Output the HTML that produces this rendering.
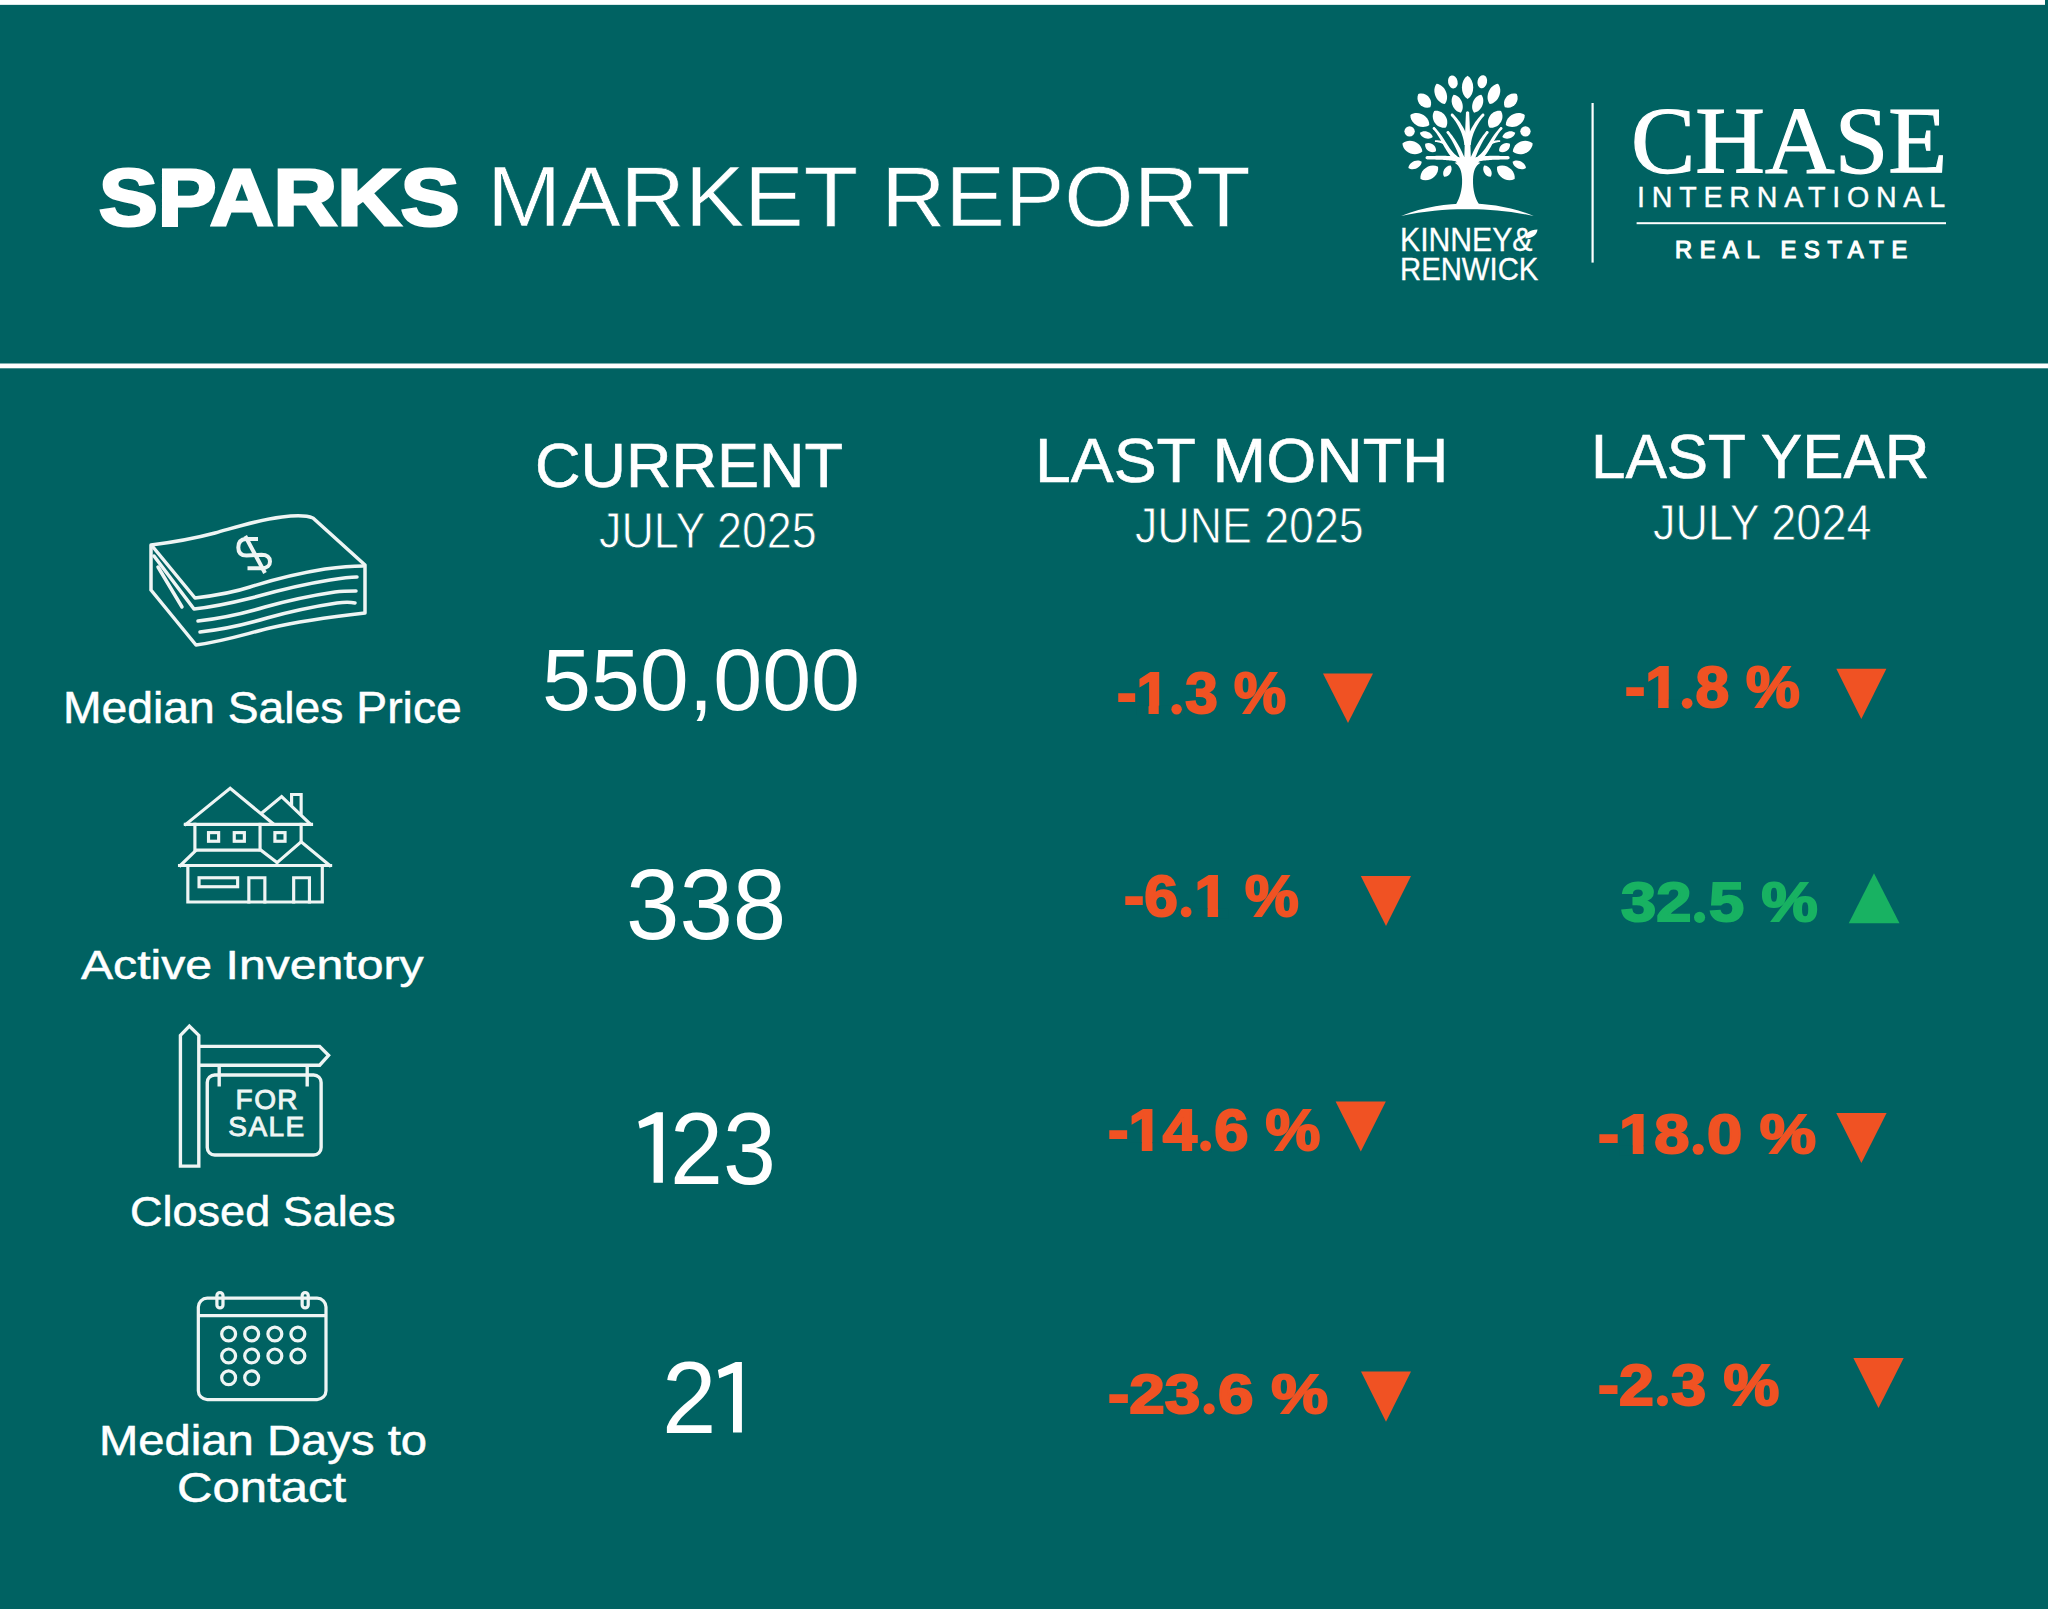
<!DOCTYPE html>
<html><head><meta charset="utf-8"><style>
html,body{margin:0;padding:0;}
body{width:2048px;height:1609px;background:#006262;position:relative;overflow:hidden;}
.t{position:absolute;white-space:nowrap;line-height:1;transform-origin:0 0;}
svg.st{position:absolute;left:0;top:0;}
</style></head><body>
<svg class="st" width="2048" height="1609" viewBox="0 0 2048 1609">
<rect x="0" y="0" width="2045" height="4.85" fill="#fff"/>
<rect x="0" y="363.5" width="2048" height="4.8" fill="#fff"/>
<g fill="#f05223">
<polygon points="1323,673.4 1373,673.4 1348,723"/>
<polygon points="1836.3,668.8 1886.4,668.8 1861.3,719.1"/>
<polygon points="1360.8,876 1411,876 1386,926"/>
<polygon points="1335.6,1101.4 1385.8,1101.4 1360.8,1151.4"/>
<polygon points="1836.25,1113.1 1886.6,1113.1 1861.4,1163.1"/>
<polygon points="1361,1371.6 1411,1371.6 1386,1421.7"/>
<polygon points="1853.4,1358 1903.7,1358 1878.5,1408"/>
</g>
<polygon fill="#18b262" points="1848.75,923.3 1899.5,923.3 1874,873.3"/>
<!-- logo lines -->
<rect x="1591.5" y="103" width="2.2" height="159.6" fill="#fff"/>
<rect x="1636.6" y="222.2" width="309.4" height="2" fill="#fff"/>
<!-- money icon -->
<g fill="none" stroke="#eef5f4" stroke-width="3.5" stroke-linecap="round" stroke-linejoin="round">
<path d="M151,590 L151,545 C175,542 200,537 215,533 C240,526 258,520 282,517 C298,515 308,516 313,518 L365,565 L365,613 C330,617 300,621 270,628 C245,634 225,641 196,645 L151,590"/>
<path d="M153,547 L195,598 C220,595 235,592 250,587 C275,579 300,573 325,569 C340,567 352,566 363,566"/>
<path d="M154,556 L194,609 C220,606 235,602 255,597 C280,590 305,584 330,580 C342,578 350,577 357,577"/>
<path d="M158,567 L182,607"/>
<path d="M198,621 C225,618 245,613 265,607 C290,600 315,595 335,592 C343,591 350,591 356,591"/>
<path d="M200,632 C227,629 247,624 267,618 C292,611 317,606 337,603 C345,602 350,602 355,603"/>
<path stroke-width="4" stroke-linecap="butt" d="M258,539 L246,539 C240.5,539.3 238.3,543 238.3,547.5 C238.3,552.5 241,555.5 246.5,555.5 L261.5,554.8 C267,554.8 270,557.5 270,561.5 C270,565.5 267,568.2 262,568.2 L247.5,568.2"/>
<path stroke-width="4" stroke-linecap="butt" d="M245.2,536 L265,573"/>
</g>
<!-- house icon -->
<g transform="translate(170,780) scale(0.083)" fill="none" stroke="#eef5f4" stroke-width="38" stroke-linecap="square" stroke-linejoin="miter">
<path d="M190,535 L725,100 L1240,525"/>
<path d="M1110,395 L1345,200 L1690,530"/>
<path d="M1465,290 L1465,175 L1580,175 L1580,400"/>
<path d="M185,535 L1705,535"/>
<path d="M300,535 L300,845 L1095,845 L1290,995"/>
<path d="M1085,535 L1085,840"/>
<path d="M1580,535 L1580,740"/>
<rect x="464" y="634" width="122" height="104"/>
<rect x="774" y="634" width="122" height="104"/>
<rect x="1264" y="634" width="122" height="104"/>
<path d="M125,1030 L305,855"/>
<path d="M1290,995 L1580,745 L1925,1030"/>
<path d="M115,1030 L1935,1030"/>
<path d="M215,1030 L215,1470 L1835,1470 L1835,1030"/>
<rect x="350" y="1178" width="465" height="108"/>
<path d="M950,1470 L950,1178 L1143,1178 L1143,1470"/>
<path d="M1490,1470 L1490,1178 L1680,1178 L1680,1470"/>
</g>
<!-- for sale icon -->
<g transform="translate(165,1015) scale(0.09944)" fill="none" stroke="#eef5f4" stroke-width="34" stroke-linejoin="miter">
<path d="M155,1520 L155,205 L245,112 L340,205 L340,1520 Z"/>
<path d="M340,315 L1555,315 L1645,405 L1555,505 L340,505"/>
<path d="M545,505 L545,720 M1430,505 L1430,720"/>
<rect x="425" y="603" width="1145" height="805" rx="75"/>
</g>
<g font-family="'Liberation Sans', sans-serif" fill="#eef5f4" stroke="#eef5f4" stroke-width="0.9">
<text x="235.6" y="1109.3" font-size="28" textLength="62" lengthAdjust="spacing">FOR</text>
<text x="228.3" y="1136.1" font-size="28" textLength="76" lengthAdjust="spacing">SALE</text>
</g>
<!-- calendar icon -->
<g transform="translate(185,1280) scale(0.0808)" fill="none" stroke="#eef5f4" stroke-width="40">
<rect x="165" y="225" width="1580" height="1255" rx="110"/>
<path d="M165,440 L1745,440"/>
<rect x="395" y="155" width="75" height="190" rx="37"/>
<rect x="1450" y="155" width="75" height="190" rx="37"/>
<circle cx="540" cy="668" r="86"/><circle cx="825" cy="668" r="86"/><circle cx="1112" cy="668" r="86"/><circle cx="1397" cy="668" r="86"/>
<circle cx="540" cy="940" r="86"/><circle cx="825" cy="940" r="86"/><circle cx="1112" cy="940" r="86"/><circle cx="1397" cy="940" r="86"/>
<circle cx="540" cy="1210" r="86"/><circle cx="825" cy="1210" r="86"/>
</g>
<g fill="#fff" id="digit-ones">
<polygon points="638.3,1121.5 656.4,1112.3 662.9,1112.3 662.9,1182.8 653.6,1182.8 653.6,1123.4 639.7,1128.5"/>
<polygon points="717.9,1370 735.7,1361.9 741.9,1361.9 741.9,1432.6 733,1432.6 733,1372.8 719.3,1378.3"/>
</g>
<path id="leaf-amp" fill="#fff" d="M1525.5,238.5 C1525,233 1530,229.5 1537.5,229.5 C1537,235 1532,238.5 1525.5,238.5 Z"/>
<g transform="translate(1390,65) scale(0.09944)" fill="#fff">
<ellipse cx="632" cy="170" rx="48" ry="66" transform="rotate(-12 632 170)"/>
<path transform="translate(780 225) rotate(0)" d="M0,-118 C76.0,-73.2 76.0,73.2 0,118 C-76.0,73.2 -76.0,-73.2 0,-118 Z"/>
<ellipse cx="928" cy="168" rx="48" ry="66" transform="rotate(12 928 168)"/>
<path transform="translate(510 290) rotate(-22)" d="M0,-110 C76.0,-68.2 76.0,68.2 0,110 C-76.0,68.2 -76.0,-68.2 0,-110 Z"/>
<path transform="translate(1045 290) rotate(22)" d="M0,-110 C76.0,-68.2 76.0,68.2 0,110 C-76.0,68.2 -76.0,-68.2 0,-110 Z"/>
<path transform="translate(345 358) rotate(-42)" d="M0,-90 C77.3,-55.8 77.3,55.8 0,90 C-77.3,55.8 -77.3,-55.8 0,-90 Z"/>
<path transform="translate(1215 358) rotate(42)" d="M0,-90 C77.3,-55.8 77.3,55.8 0,90 C-77.3,55.8 -77.3,-55.8 0,-90 Z"/>
<path transform="translate(676 390) rotate(-22)" d="M0,-97 C66.6,-60.1 66.6,60.1 0,97 C-66.6,60.1 -66.6,-60.1 0,-97 Z"/>
<path transform="translate(882 390) rotate(22)" d="M0,-97 C66.6,-60.1 66.6,60.1 0,97 C-66.6,60.1 -66.6,-60.1 0,-97 Z"/>
<path transform="translate(503 545) rotate(-35)" d="M0,-102 C84.0,-63.2 84.0,63.2 0,102 C-84.0,63.2 -84.0,-63.2 0,-102 Z"/>
<path transform="translate(1058 545) rotate(35)" d="M0,-102 C84.0,-63.2 84.0,63.2 0,102 C-84.0,63.2 -84.0,-63.2 0,-102 Z"/>
<path transform="translate(300 553) rotate(-62)" d="M0,-108 C82.6,-67.0 82.6,67.0 0,108 C-82.6,67.0 -82.6,-67.0 0,-108 Z"/>
<path transform="translate(1260 553) rotate(62)" d="M0,-108 C82.6,-67.0 82.6,67.0 0,108 C-82.6,67.0 -82.6,-67.0 0,-108 Z"/>
<path transform="translate(365 703) rotate(-72)" d="M0,-68 C46.7,-42.2 46.7,42.2 0,68 C-46.7,42.2 -46.7,-42.2 0,-68 Z"/>
<path transform="translate(1195 703) rotate(72)" d="M0,-68 C46.7,-42.2 46.7,42.2 0,68 C-46.7,42.2 -46.7,-42.2 0,-68 Z"/>
<path transform="translate(225 830) rotate(-68)" d="M0,-108 C84.0,-67.0 84.0,67.0 0,108 C-84.0,67.0 -84.0,-67.0 0,-108 Z"/>
<path transform="translate(1335 830) rotate(68)" d="M0,-108 C84.0,-67.0 84.0,67.0 0,108 C-84.0,67.0 -84.0,-67.0 0,-108 Z"/>
<path transform="translate(408 830) rotate(-55)" d="M0,-66 C53.3,-40.9 53.3,40.9 0,66 C-53.3,40.9 -53.3,-40.9 0,-66 Z"/>
<path transform="translate(1152 830) rotate(55)" d="M0,-66 C53.3,-40.9 53.3,40.9 0,66 C-53.3,40.9 -53.3,-40.9 0,-66 Z"/>
<path transform="translate(252 1005) rotate(65)" d="M0,-74 C50.7,-45.9 50.7,45.9 0,74 C-50.7,45.9 -50.7,-45.9 0,-74 Z"/>
<path transform="translate(1300 1005) rotate(-65)" d="M0,-74 C50.7,-45.9 50.7,45.9 0,74 C-50.7,45.9 -50.7,-45.9 0,-74 Z"/>
<path transform="translate(395 1085) rotate(55)" d="M0,-108 C82.6,-67.0 82.6,67.0 0,108 C-82.6,67.0 -82.6,-67.0 0,-108 Z"/>
<path transform="translate(1165 1085) rotate(-55)" d="M0,-108 C82.6,-67.0 82.6,67.0 0,108 C-82.6,67.0 -82.6,-67.0 0,-108 Z"/>
<path transform="translate(577 1067) rotate(30)" d="M0,-66 C48.0,-40.9 48.0,40.9 0,66 C-48.0,40.9 -48.0,-40.9 0,-66 Z"/>
<path transform="translate(980 1067) rotate(-30)" d="M0,-66 C48.0,-40.9 48.0,40.9 0,66 C-48.0,40.9 -48.0,-40.9 0,-66 Z"/>
<circle cx="197" cy="667" r="52"/><circle cx="1362" cy="667" r="52"/>
<path d="M112,1518 C350,1420 600,1390 780,1392 C960,1390 1210,1420 1445,1518 C1200,1465 980,1448 780,1450 C580,1448 360,1465 112,1518 Z"/>
<path d="M665,1400 C700,1340 728,1260 725,1150 C722,1060 700,1010 650,982 C690,975 720,955 745,925 L815,925 C840,955 870,975 910,982 C860,1010 838,1060 835,1150 C832,1260 855,1340 895,1400 Z"/>
<path d="M815.0,1000.0 L814.2,975.0 L813.4,950.0 L812.6,925.2 L811.8,900.4 L811.0,875.7 L810.2,851.2 L809.5,826.9 L808.7,802.9 L807.9,779.1 L807.1,755.6 L806.3,732.5 L805.5,709.7 L804.7,687.4 L803.9,665.5 L803.1,644.0 L802.3,623.1 L801.5,602.7 L800.8,582.9 L800.0,563.7 L799.2,545.1 L798.4,527.3 L797.6,510.1 L796.8,493.7 L796.0,478.0 L764.0,478.0 L763.2,493.7 L762.4,510.1 L761.6,527.3 L760.8,545.1 L760.0,563.7 L759.2,582.9 L758.5,602.7 L757.7,623.1 L756.9,644.0 L756.1,665.5 L755.3,687.4 L754.5,709.8 L753.7,732.5 L752.9,755.6 L752.1,779.1 L751.3,802.9 L750.5,826.9 L749.8,851.2 L749.0,875.7 L748.2,900.4 L747.4,925.2 L746.6,950.0 L745.8,975.0 L745.0,1000.0 Z"/>
<path d="M796.8,796.6 L794.5,783.6 L791.6,770.1 L788.3,756.5 L784.5,742.8 L780.2,729.1 L775.5,715.4 L770.4,701.7 L764.9,688.0 L759.0,674.4 L752.7,660.8 L746.0,647.3 L739.0,633.9 L731.6,620.6 L723.9,607.5 L715.9,594.6 L707.6,581.9 L699.0,569.4 L690.1,557.2 L680.9,545.2 L671.5,533.6 L661.9,522.3 L652.0,511.3 L641.9,500.7 L631.8,490.7 L612.2,509.3 L621.4,519.7 L630.2,530.3 L638.8,541.2 L647.2,552.5 L655.3,564.1 L663.2,575.9 L670.9,588.0 L678.2,600.3 L685.3,612.8 L692.0,625.4 L698.4,638.2 L704.5,651.1 L710.3,664.1 L715.7,677.1 L720.7,690.1 L725.3,703.1 L729.6,716.1 L733.4,729.0 L736.8,741.7 L739.8,754.4 L742.3,766.9 L744.4,779.2 L746.0,791.2 L747.2,803.4 Z"/>
<path d="M812.8,803.4 L814.0,791.2 L815.6,779.2 L817.7,766.9 L820.2,754.4 L823.2,741.7 L826.6,729.0 L830.4,716.1 L834.7,703.1 L839.3,690.1 L844.3,677.1 L849.7,664.1 L855.5,651.1 L861.6,638.2 L868.0,625.4 L874.7,612.8 L881.8,600.3 L889.1,588.0 L896.8,575.9 L904.7,564.1 L912.8,552.5 L921.2,541.2 L929.8,530.3 L938.6,519.7 L947.8,509.3 L928.2,490.7 L918.1,500.7 L908.0,511.3 L898.1,522.3 L888.5,533.6 L879.1,545.2 L869.9,557.2 L861.0,569.4 L852.4,581.9 L844.1,594.6 L836.1,607.5 L828.4,620.6 L821.0,633.9 L814.0,647.3 L807.3,660.8 L801.0,674.4 L795.1,688.0 L789.6,701.7 L784.5,715.4 L779.8,729.1 L775.5,742.8 L771.7,756.5 L768.4,770.1 L765.5,783.6 L763.2,796.6 Z"/>
<path d="M767.5,976.8 L761.4,961.3 L755.2,946.1 L748.9,931.0 L742.6,916.3 L736.1,901.7 L729.6,887.4 L723.0,873.3 L716.3,859.5 L709.4,845.9 L702.5,832.5 L695.4,819.4 L688.3,806.4 L680.9,793.7 L673.5,781.2 L665.9,768.8 L658.1,756.7 L650.2,744.8 L642.2,733.1 L633.9,721.6 L625.5,710.2 L616.9,699.1 L608.2,688.1 L599.2,677.3 L590.1,666.8 L569.9,683.2 L578.1,694.1 L586.0,705.0 L593.8,716.1 L601.3,727.4 L608.6,738.8 L615.8,750.3 L622.8,762.1 L629.6,774.0 L636.3,786.1 L642.9,798.4 L649.2,810.9 L655.5,823.6 L661.6,836.5 L667.6,849.6 L673.5,862.9 L679.3,876.4 L685.0,890.2 L690.5,904.1 L696.0,918.4 L701.5,932.8 L706.8,947.5 L712.1,962.5 L717.3,977.7 L722.5,993.2 Z"/>
<path d="M837.5,993.2 L842.7,977.7 L847.9,962.5 L853.2,947.5 L858.5,932.8 L864.0,918.4 L869.5,904.1 L875.0,890.2 L880.7,876.4 L886.5,862.9 L892.4,849.6 L898.4,836.5 L904.5,823.6 L910.8,810.9 L917.1,798.4 L923.7,786.1 L930.4,774.0 L937.2,762.1 L944.2,750.3 L951.4,738.8 L958.7,727.4 L966.2,716.1 L974.0,705.0 L981.9,694.1 L990.1,683.2 L969.9,666.8 L960.8,677.3 L951.8,688.1 L943.1,699.1 L934.5,710.2 L926.1,721.6 L917.8,733.1 L909.8,744.8 L901.9,756.7 L894.1,768.8 L886.5,781.2 L879.1,793.7 L871.7,806.4 L864.6,819.4 L857.5,832.5 L850.6,845.9 L843.7,859.5 L837.0,873.3 L830.4,887.4 L823.9,901.7 L817.4,916.3 L811.1,931.0 L804.8,946.1 L798.6,961.3 L792.5,976.8 Z"/>
<path d="M728.6,954.0 L710.2,942.8 L693.7,931.6 L678.6,920.3 L664.7,908.7 L651.8,896.9 L639.8,884.8 L628.6,872.5 L618.1,859.9 L608.2,847.0 L598.6,833.8 L589.4,820.4 L580.5,806.6 L571.6,792.6 L562.7,778.3 L553.7,763.8 L544.5,749.1 L535.0,734.2 L525.0,719.1 L514.4,703.9 L503.1,688.5 L491.1,673.1 L478.1,657.5 L464.1,641.9 L449.2,626.5 L430.8,643.5 L444.7,659.2 L457.2,674.7 L468.7,690.1 L479.4,705.5 L489.3,720.7 L498.6,735.9 L507.4,751.0 L515.8,766.1 L524.0,781.1 L532.1,796.1 L540.1,811.0 L548.3,825.9 L556.7,840.7 L565.5,855.5 L574.9,870.3 L584.8,884.9 L595.6,899.5 L607.2,913.9 L619.8,928.2 L633.6,942.3 L648.6,956.2 L664.9,969.9 L682.6,983.2 L701.4,996.0 Z"/>
<path d="M858.6,996.0 L877.4,983.2 L895.1,969.9 L911.4,956.2 L926.4,942.3 L940.2,928.2 L952.8,913.9 L964.4,899.5 L975.2,884.9 L985.1,870.3 L994.5,855.5 L1003.3,840.7 L1011.7,825.9 L1019.9,811.0 L1027.9,796.1 L1036.0,781.1 L1044.2,766.1 L1052.6,751.0 L1061.4,735.9 L1070.7,720.7 L1080.6,705.5 L1091.3,690.1 L1102.8,674.7 L1115.3,659.2 L1129.2,643.5 L1110.8,626.5 L1095.9,641.9 L1081.9,657.5 L1068.9,673.1 L1056.9,688.5 L1045.6,703.9 L1035.0,719.1 L1025.0,734.2 L1015.5,749.1 L1006.3,763.8 L997.3,778.3 L988.4,792.6 L979.5,806.6 L970.6,820.4 L961.4,833.8 L951.8,847.0 L941.9,859.9 L931.4,872.5 L920.2,884.8 L908.2,896.9 L895.3,908.7 L881.4,920.3 L866.3,931.6 L849.8,942.8 L831.4,954.0 Z"/>
<path d="M560.1,778.0 L555.6,776.3 L551.2,774.6 L546.8,773.0 L542.4,771.5 L538.0,769.9 L533.6,768.5 L529.2,767.1 L524.9,765.8 L520.5,764.5 L516.2,763.4 L511.8,762.3 L507.4,761.2 L503.0,760.3 L498.6,759.4 L494.1,758.7 L489.6,758.0 L485.1,757.4 L480.5,756.9 L475.9,756.5 L471.3,756.2 L466.5,756.0 L461.8,755.9 L456.9,755.9 L452.1,756.0 L451.9,774.0 L456.5,774.2 L460.9,774.5 L465.3,774.9 L469.5,775.4 L473.7,776.0 L477.9,776.7 L482.0,777.5 L486.0,778.3 L490.0,779.2 L494.0,780.3 L497.9,781.3 L501.8,782.5 L505.7,783.8 L509.6,785.1 L513.6,786.5 L517.5,787.9 L521.4,789.4 L525.4,791.0 L529.3,792.7 L533.4,794.4 L537.4,796.2 L541.5,798.1 L545.7,800.0 L549.9,802.0 Z"/>
<path d="M1010.1,802.0 L1014.3,800.0 L1018.5,798.1 L1022.6,796.2 L1026.6,794.4 L1030.7,792.7 L1034.6,791.0 L1038.6,789.4 L1042.5,787.9 L1046.4,786.5 L1050.4,785.1 L1054.3,783.8 L1058.2,782.5 L1062.1,781.3 L1066.0,780.3 L1070.0,779.2 L1074.0,778.3 L1078.0,777.5 L1082.1,776.7 L1086.3,776.0 L1090.5,775.4 L1094.7,774.9 L1099.1,774.5 L1103.5,774.2 L1108.1,774.0 L1107.9,756.0 L1103.1,755.9 L1098.2,755.9 L1093.5,756.0 L1088.7,756.2 L1084.1,756.5 L1079.5,756.9 L1074.9,757.4 L1070.4,758.0 L1065.9,758.7 L1061.4,759.4 L1057.0,760.3 L1052.6,761.2 L1048.2,762.3 L1043.8,763.4 L1039.5,764.5 L1035.1,765.8 L1030.8,767.1 L1026.4,768.5 L1022.0,769.9 L1017.6,771.5 L1013.2,773.0 L1008.8,774.6 L1004.4,776.3 L999.9,778.0 Z"/>
<path d="M742.8,941.3 L727.9,936.7 L712.6,932.6 L697.4,928.9 L682.0,925.7 L666.7,923.0 L651.4,920.7 L636.1,918.7 L620.8,917.1 L605.5,915.9 L590.1,914.9 L574.8,914.2 L559.4,913.6 L544.0,913.3 L528.6,913.2 L513.1,913.2 L497.7,913.3 L482.2,913.5 L466.6,913.8 L451.0,914.1 L435.4,914.4 L419.7,914.6 L404.0,914.8 L388.2,915.0 L372.3,915.0 L371.7,949.0 L387.7,949.6 L403.7,950.2 L419.5,950.6 L435.3,951.0 L450.9,951.4 L466.5,951.8 L481.9,952.2 L497.2,952.7 L512.4,953.2 L527.5,953.9 L542.5,954.7 L557.4,955.6 L572.1,956.7 L586.7,958.1 L601.3,959.7 L615.7,961.5 L629.9,963.7 L644.1,966.1 L658.2,968.9 L672.1,972.0 L685.9,975.5 L699.6,979.5 L713.3,983.8 L727.2,988.7 Z"/>
<path d="M832.8,988.7 L846.7,983.8 L860.4,979.5 L874.1,975.5 L887.9,972.0 L901.8,968.9 L915.9,966.1 L930.1,963.7 L944.3,961.5 L958.7,959.7 L973.3,958.1 L987.9,956.7 L1002.6,955.6 L1017.5,954.7 L1032.5,953.9 L1047.6,953.2 L1062.8,952.7 L1078.1,952.2 L1093.5,951.8 L1109.1,951.4 L1124.7,951.0 L1140.5,950.6 L1156.3,950.2 L1172.3,949.6 L1188.3,949.0 L1187.7,915.0 L1171.8,915.0 L1156.0,914.8 L1140.3,914.6 L1124.6,914.4 L1109.0,914.1 L1093.4,913.8 L1077.8,913.5 L1062.3,913.3 L1046.9,913.2 L1031.4,913.2 L1016.0,913.3 L1000.6,913.6 L985.2,914.2 L969.9,914.9 L954.5,915.9 L939.2,917.1 L923.9,918.7 L908.6,920.7 L893.3,923.0 L878.0,925.7 L862.6,928.9 L847.4,932.6 L832.1,936.7 L817.2,941.3 Z"/>
<g fill="#fff"><circle cx="780" cy="480" r="16"/><circle cx="624" cy="502" r="13.5"/><circle cx="936" cy="502" r="13.5"/><circle cx="582" cy="677" r="13"/><circle cx="978" cy="677" r="13"/><circle cx="442" cy="637" r="12.5"/><circle cx="1118" cy="637" r="12.5"/><circle cx="374" cy="932" r="17"/><circle cx="1186" cy="932" r="17"/></g>
</g>
</svg>

<div class="t" id="sparks" style="left:99.00px;top:158.06px;font-size:79.45px;font-family:'Liberation Sans', sans-serif;font-weight:700;color:#fff;transform:scaleX(1.1087);-webkit-text-stroke:3px #fff;">SPARKS</div>
<div class="t" id="market" style="left:487.00px;top:154.06px;font-size:85.48px;font-family:'Liberation Sans', sans-serif;font-weight:400;color:#fff;transform:scaleX(1.0420);-webkit-text-stroke:0.6px #006262;">MARKET REPORT</div>
<div class="t" id="current" style="left:535.00px;top:434.67px;font-size:62.27px;font-family:'Liberation Sans', sans-serif;font-weight:400;color:#fff;transform:scaleX(1.0118);-webkit-text-stroke:0.6px #fff;">CURRENT</div>
<div class="t" id="jul25" style="left:599.00px;top:506.61px;font-size:49.02px;font-family:'Liberation Sans', sans-serif;font-weight:400;color:#fff;transform:scaleX(0.9147);-webkit-text-stroke:0.8px #006262;">JULY 2025</div>
<div class="t" id="lastmonth" style="left:1035.00px;top:428.64px;font-size:62.57px;font-family:'Liberation Sans', sans-serif;font-weight:400;color:#fff;transform:scaleX(1.0283);-webkit-text-stroke:0.6px #fff;">LAST MONTH</div>
<div class="t" id="jun25" style="left:1135.00px;top:501.31px;font-size:49.35px;font-family:'Liberation Sans', sans-serif;font-weight:400;color:#fff;transform:scaleX(0.9062);-webkit-text-stroke:0.8px #006262;">JUNE 2025</div>
<div class="t" id="lastyear" style="left:1591.00px;top:424.64px;font-size:62.57px;font-family:'Liberation Sans', sans-serif;font-weight:400;color:#fff;transform:scaleX(0.9898);-webkit-text-stroke:0.6px #fff;">LAST YEAR</div>
<div class="t" id="jul24" style="left:1653.00px;top:498.61px;font-size:49.02px;font-family:'Liberation Sans', sans-serif;font-weight:400;color:#fff;transform:scaleX(0.9178);-webkit-text-stroke:0.8px #006262;">JULY 2024</div>
<div class="t" id="lbl1" style="left:63.40px;top:686.25px;font-size:44.06px;font-family:'Liberation Sans', sans-serif;font-weight:400;color:#fff;transform:scaleX(1.0509);-webkit-text-stroke:0.5px #fff;">Median Sales Price</div>
<div class="t" id="lbl2" style="left:80.80px;top:944.79px;font-size:40.50px;font-family:'Liberation Sans', sans-serif;font-weight:400;color:#fff;transform:scaleX(1.1891);-webkit-text-stroke:0.5px #fff;">Active Inventory</div>
<div class="t" id="lbl3" style="left:129.50px;top:1189.80px;font-size:43.43px;font-family:'Liberation Sans', sans-serif;font-weight:400;color:#fff;transform:scaleX(1.0374);-webkit-text-stroke:0.5px #fff;">Closed Sales</div>
<div class="t" id="lbl4a" style="left:98.60px;top:1419.72px;font-size:42.40px;font-family:'Liberation Sans', sans-serif;font-weight:400;color:#fff;transform:scaleX(1.1140);-webkit-text-stroke:0.5px #fff;">Median Days to</div>
<div class="t" id="lbl4b" style="left:177.40px;top:1465.69px;font-size:43.07px;font-family:'Liberation Sans', sans-serif;font-weight:400;color:#fff;transform:scaleX(1.1396);-webkit-text-stroke:0.5px #fff;">Contact</div>
<div class="t" id="n1" style="left:542.00px;top:636.67px;font-size:87.49px;font-family:'Liberation Sans', sans-serif;font-weight:400;color:#fff;transform:scaleX(1.0055);">550,000</div>
<div class="t" id="n2" style="left:626.00px;top:853.94px;font-size:100.68px;font-family:'Liberation Sans', sans-serif;font-weight:400;color:#fff;transform:scaleX(0.9544);">338</div>
<div class="t" id="n3" style="left:669.80px;top:1097.69px;font-size:102.77px;font-family:'Liberation Sans', sans-serif;font-weight:400;color:#fff;transform:scaleX(0.9264);">23</div>
<div class="t" id="n4" style="left:662.40px;top:1347.66px;font-size:101.49px;font-family:'Liberation Sans', sans-serif;font-weight:400;color:#fff;transform:scaleX(0.9639);">2</div>
<div class="t" id="p11" style="left:1116.50px;top:665.06px;font-size:57.34px;font-family:'Liberation Sans', sans-serif;font-weight:700;color:#f05223;transform:scaleX(1.0204);-webkit-text-stroke:2px #f05223;">-1.3 %</div>
<div class="t" id="p12" style="left:1625.00px;top:660.03px;font-size:56.58px;font-family:'Liberation Sans', sans-serif;font-weight:700;color:#f05223;transform:scaleX(1.0689);-webkit-text-stroke:2px #f05223;">-1.8 %</div>
<div class="t" id="p21" style="left:1124.00px;top:867.74px;font-size:57.02px;font-family:'Liberation Sans', sans-serif;font-weight:700;color:#f05223;transform:scaleX(1.0606);-webkit-text-stroke:2px #f05223;">-6.1 %</div>
<div class="t" id="p22" style="left:1620.50px;top:875.06px;font-size:55.34px;font-family:'Liberation Sans', sans-serif;font-weight:700;color:#18b262;transform:scaleX(1.1427);-webkit-text-stroke:2px #18b262;">32.5 %</div>
<div class="t" id="p31" style="left:1108.00px;top:1102.58px;font-size:56.59px;font-family:'Liberation Sans', sans-serif;font-weight:700;color:#f05223;transform:scaleX(1.0892);-webkit-text-stroke:2px #f05223;">-14.6 %</div>
<div class="t" id="p32" style="left:1598.00px;top:1105.92px;font-size:56.37px;font-family:'Liberation Sans', sans-serif;font-weight:700;color:#f05223;transform:scaleX(1.1226);-webkit-text-stroke:2px #f05223;">-18.0 %</div>
<div class="t" id="p41" style="left:1108.00px;top:1366.53px;font-size:55.65px;font-family:'Liberation Sans', sans-serif;font-weight:700;color:#f05223;transform:scaleX(1.1477);-webkit-text-stroke:2px #f05223;">-23.6 %</div>
<div class="t" id="p42" style="left:1598.00px;top:1356.53px;font-size:57.00px;font-family:'Liberation Sans', sans-serif;font-weight:700;color:#f05223;transform:scaleX(1.1001);-webkit-text-stroke:2px #f05223;">-2.3 %</div>
<div class="t" id="chase" style="left:1631.00px;top:93.72px;font-size:94.89px;font-family:'Liberation Serif', serif;font-weight:400;color:#fff;transform:scaleX(1.0167);-webkit-text-stroke:1.2px #fff;">CHASE</div>
<div class="t" id="intl" style="left:1637.00px;top:183.13px;font-size:28.61px;font-family:'Liberation Sans', sans-serif;font-weight:400;color:#fff;letter-spacing:6.78px;-webkit-text-stroke:0.4px #fff;">INTERNATIONAL</div>
<div class="t" id="realestate" style="left:1675.00px;top:238.59px;font-size:23.60px;font-family:'Liberation Sans', sans-serif;font-weight:400;color:#fff;letter-spacing:7.66px;-webkit-text-stroke:1.2px #fff;">REAL ESTATE</div>
<div class="t" id="kinney" style="left:1399.70px;top:223.89px;font-size:32.66px;font-family:'Liberation Sans', sans-serif;font-weight:400;color:#fff;transform:scaleX(0.9240);-webkit-text-stroke:0.3px #fff;">KINNEY&amp;</div>
<div class="t" id="renwick" style="left:1399.70px;top:254.47px;font-size:31.49px;font-family:'Liberation Sans', sans-serif;font-weight:400;color:#fff;transform:scaleX(0.9304);-webkit-text-stroke:0.3px #fff;">RENWICK</div>
<svg class="st ov" width="2048" height="1609" viewBox="0 0 2048 1609">
<rect x="1136.15" y="705.60" width="12.38" height="9.95" fill="#006262"/>
<rect x="1158.76" y="705.60" width="10.33" height="9.95" fill="#006262"/>
<rect x="1170.48" y="702.51" width="12.26" height="13.04" fill="#006262"/>
<circle cx="1176.61" cy="709.28" r="5.23" fill="rgb(240, 82, 35)"/>
<rect x="1645.44" y="699.64" width="12.71" height="9.87" fill="#006262"/>
<rect x="1668.65" y="699.64" width="10.64" height="9.87" fill="#006262"/>
<rect x="1680.87" y="696.59" width="12.54" height="12.93" fill="#006262"/>
<circle cx="1687.14" cy="703.30" r="5.37" fill="rgb(240, 82, 35)"/>
<rect x="1179.87" y="905.24" width="12.54" height="12.99" fill="#006262"/>
<circle cx="1186.14" cy="911.99" r="5.37" fill="rgb(240, 82, 35)"/>
<rect x="1194.87" y="908.32" width="12.71" height="9.92" fill="#006262"/>
<rect x="1218.08" y="908.32" width="10.64" height="9.92" fill="#006262"/>
<rect x="1693.11" y="910.81" width="12.93" height="12.74" fill="#006262"/>
<circle cx="1699.57" cy="917.43" r="5.57" fill="rgb(24, 178, 98)"/>
<rect x="1128.89" y="1142.20" width="12.91" height="9.88" fill="#006262"/>
<rect x="1152.46" y="1142.20" width="10.82" height="9.88" fill="#006262"/>
<rect x="1199.25" y="1139.15" width="12.70" height="12.93" fill="#006262"/>
<circle cx="1205.60" cy="1145.86" r="5.45" fill="rgb(240, 82, 35)"/>
<rect x="1619.55" y="1145.55" width="13.19" height="9.85" fill="#006262"/>
<rect x="1643.63" y="1145.55" width="11.08" height="9.85" fill="#006262"/>
<rect x="1691.74" y="1142.51" width="12.94" height="12.89" fill="#006262"/>
<circle cx="1698.20" cy="1149.21" r="5.57" fill="rgb(240, 82, 35)"/>
<rect x="1202.62" y="1402.23" width="13.03" height="12.79" fill="#006262"/>
<circle cx="1209.14" cy="1408.87" r="5.61" fill="rgb(240, 82, 35)"/>
<rect x="1656.01" y="1394.03" width="12.86" height="12.99" fill="#006262"/>
<circle cx="1662.44" cy="1400.77" r="5.53" fill="rgb(240, 82, 35)"/>
</svg>
</body></html>
